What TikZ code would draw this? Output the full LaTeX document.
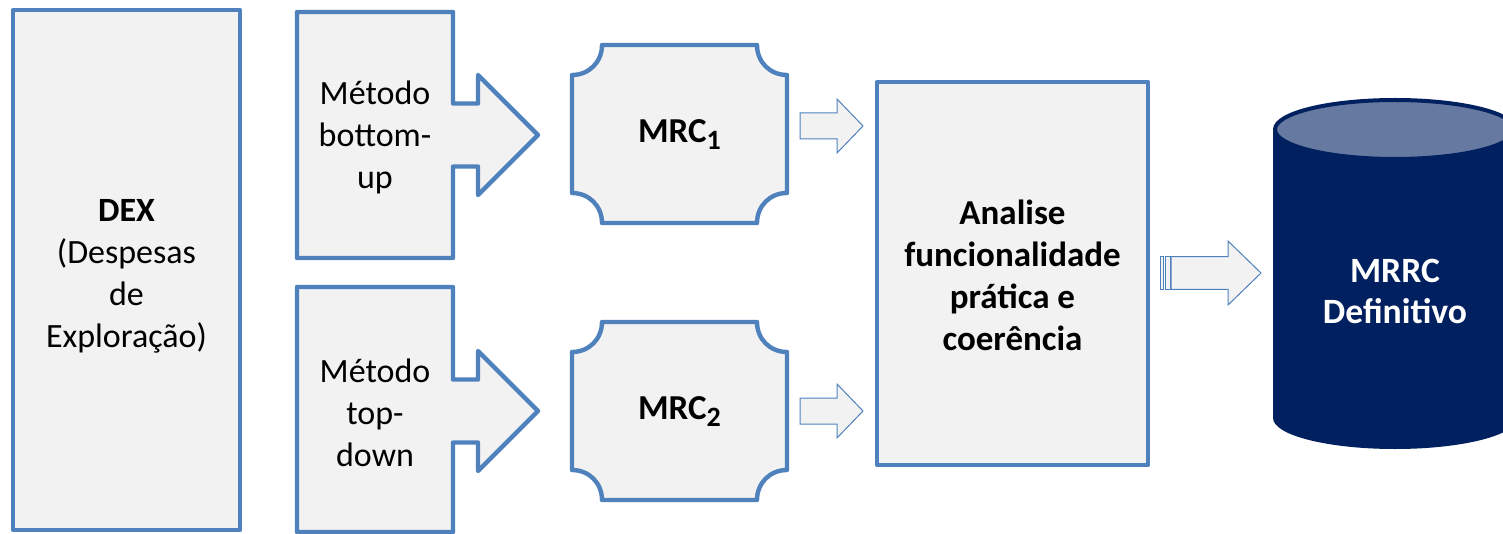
\documentclass[tikz,border=0pt]{standalone}
\usepackage{fontspec}
\setmainfont{Carlito}
\usetikzlibrary{positioning}

\definecolor{boxblue}{RGB}{79,129,189}
\definecolor{boxgray}{RGB}{242,242,242}
\definecolor{navy}{RGB}{0,32,96}
\definecolor{navytop}{RGB}{102,121,160}

\newcommand{\mrcsub}[1]{\raisebox{-3.5pt}{\fontsize{14}{14}\selectfont #1}}

\tikzset{
    blockline/.style={draw=boxblue,line width=2.2pt,fill=boxgray,line join=round},
    thinarrow/.style={draw=boxblue,line width=0.5pt,fill=boxgray},
    plaintext/.style={font=\fontsize{17}{21}\selectfont,align=center},
    boldtext/.style={font=\fontsize{17.5}{21}\selectfont\bfseries,align=center},
}

\begin{document}
\begin{tikzpicture}[x=0.5pt,y=-0.5pt]
        \useasboundingbox (0,0) rectangle (1503,534);

        %DEX
        \draw[blockline] (13,10) rectangle (240,530);
        \node[plaintext] (dex) at (126.5,276) {\textbf{DEX}\\(Despesas\\de\\Exploração)};

        %METODOS (callouts)
        \foreach \top/\mid/\bot/\name/\txt in {12/135/258/bu/{Método\\bottom-\\up},287/411/532/td/{Método\\top-\\down}}{
            \draw[blockline] (297,\top) -- (453,\top) -- (453,\mid-31.5) -- (478,\mid-31.5) -- (478,\mid-60)
                -- (538,\mid) -- (478,\mid+60) -- (478,\mid+31.5) -- (453,\mid+31.5) -- (453,\bot) -- (297,\bot) -- cycle;
            \node[plaintext] (\name) at (375,\mid+2) {\txt};
        }

        %MRC (plaques)
        \foreach \top/\name/\idx in {45/mrc1/1,322/mrc2/2}{
            \draw[blockline] (602,\top) -- (757,\top) .. controls (757,\top+17) and (770,\top+30) .. (787,\top+30)
                -- (787,\top+148) .. controls (770,\top+148) and (757,\top+161) .. (757,\top+178)
                -- (602,\top+178) .. controls (602,\top+161) and (589,\top+148) .. (572,\top+148)
                -- (572,\top+30) .. controls (589,\top+30) and (602,\top+17) .. cycle;
            \node[boldtext] (\name) at (679.5,\top+90) {MRC\mrcsub{\idx}};
        }

        %small arrows
        \foreach \c in {126,411}{
            \draw[thinarrow] (800,\c-13) -- (837,\c-13) -- (837,\c-27) -- (863,\c) -- (837,\c+27) -- (837,\c+13) -- (800,\c+13) -- cycle;
        }

        %ANALISE
        \draw[blockline] (877,82) rectangle (1148,465);
        \node[boldtext] (analise) at (1012.5,275) {Analise\\funcionalidade\\prática e\\coerência};

        %striped arrow
        \draw[thinarrow] (1160.7,256.7) rectangle (1163.3,289.3);
        \draw[thinarrow] (1165,256.7) rectangle (1170,289.3);
        \draw[thinarrow] (1171,256.7) -- (1228,256.7) -- (1228,241) -- (1261,273) -- (1228,305) -- (1228,289.3) -- (1171,289.3) -- cycle;

        %CYLINDER
        \fill[navy] (1273,129.5) rectangle (1517,418);
        \fill[navy] (1395,418) ellipse [x radius=122,y radius=31];
        \draw[navy,fill=navytop,line width=2pt] (1395,129.5) ellipse [x radius=120,y radius=29.5];
        \node[font=\fontsize{17.8}{20.5}\selectfont\bfseries,align=center,text=white] (mrrc) at (1395,291) {MRRC\\Definitivo};
\end{tikzpicture}
\end{document}
